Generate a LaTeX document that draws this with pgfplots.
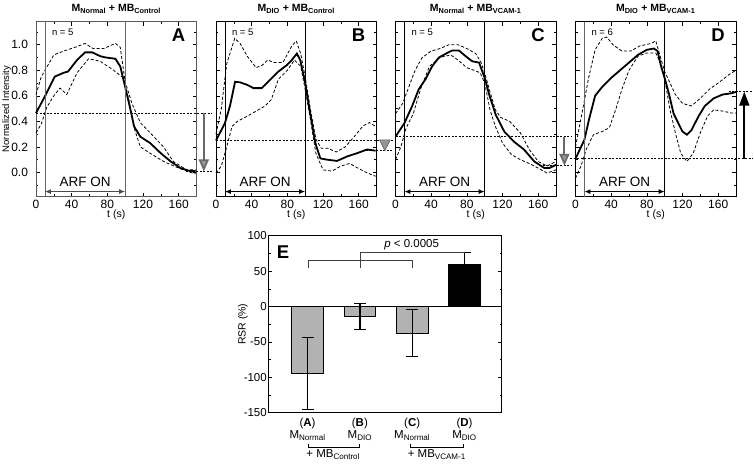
\documentclass[border=0pt]{standalone}
\usepackage{fontspec}
\setmainfont{Liberation Sans}
\usepackage{pgfplots}
\pgfplotsset{compat=1.18}
\usetikzlibrary{arrows.meta}
\newcommand{\fs}[1]{\fontsize{#1bp}{#1bp}\selectfont}
\definecolor{bargray}{RGB}{178,178,178}
\definecolor{arrgray}{RGB}{150,150,150}
\tikzset{
 mean/.style={black, line width=1.8bp},
 band/.style={black, line width=0.8bp, dash pattern=on 3bp off 2bp},
 refl/.style={black, line width=0.6bp, dash pattern=on 2bp off 1.5bp},
 vl/.style={line width=0.7bp},
}
\pgfplotsset{
 panel/.style={
  scale only axis, width=160.5bp, height=175bp, anchor=south west,
  xmin=0, xmax=180, ymin=-0.19, ymax=1.18,
  xtick={0,40,80,120,160}, minor xtick={20,60,100,140},
  ytick={0,0.2,0.4,0.6,0.8,1.0}, minor ytick={-0.1,0.1,0.3,0.5,0.7,0.9,1.1},
  tick align=inside, xtick pos=both, ytick pos=both,
  major tick length=4bp, minor tick length=2.2bp,
  every tick/.style={line width=0.5bp},
  axis line style={line width=0.7bp},
  clip=false,
  /pgf/number format/assume math mode=true,
  yticklabel style={/pgf/number format/fixed, /pgf/number format/fixed zerofill, /pgf/number format/precision=1, xshift=-4.5bp},
  tick label style={font=\fs{12}},
 },
}
\begin{document}
\begin{tikzpicture}
\path[use as bounding box] (0,0) rectangle (754bp,464bp);

% ---------------- Panel A
\begin{axis}[panel, at={(36bp,267.3bp)}, axis line style={black!65}]
\addplot[band] coordinates {(0,0.61)(6,0.75)(20,0.92)(31,0.95)(44,0.98)(55,1.01)(64,0.97)(76,0.97)(89,1.01)(94.5,0.98)(100,0.71)(107.6,0.54)(117,0.39)(128,0.31)(143,0.2)(154,0.086)(169,0.02)(179,0.02)};
\addplot[band] coordinates {(0,0.31)(6,0.38)(12,0.51)(21,0.61)(27,0.66)(34.5,0.61)(46,0.78)(59,0.89)(72,0.87)(87,0.80)(98,0.74)(104,0.57)(109.5,0.36)(117,0.2)(128,0.15)(143,0.086)(158,0.04)(173,0.0)(179,-0.01)};
\addplot[mean] coordinates {(0,0.465)(10,0.595)(21,0.75)(31,0.78)(36,0.79)(46,0.88)(55,0.94)(63,0.94)(72,0.91)(78,0.90)(89,0.89)(94.5,0.83)(100,0.67)(106,0.49)(110,0.36)(117,0.28)(128,0.23)(140,0.15)(151,0.086)(162,0.034)(173,0.01)(179,0.01)};
\draw[vl, black!60] (axis cs:10,-0.19) -- (axis cs:10,1.18);
\draw[vl, black!60] (axis cs:100,-0.19) -- (axis cs:100,1.18);
\draw[refl] (axis cs:0,0.465) -- (axis cs:197,0.465);
\draw[refl] (axis cs:168,0.008) -- (axis cs:199,0.008);
\draw[line width=1.8bp, arrgray!70!black, -{Triangle[length=12bp,width=10bp,fill=arrgray]}] (axis cs:188.2,0.465) -- (axis cs:188.2,0.008);
\draw[line width=1bp, black!70, {Latex[length=6bp,width=5bp]}-{Latex[length=6bp,width=5bp]}] (axis cs:10,-0.15) -- (axis cs:100,-0.15);
\node[font=\fs{13.5}] at (axis cs:55,-0.075) {ARF ON};
\node[font=\fs{9.5}, anchor=west] at (axis cs:14,1.094) {n = 5};
\node[font=\fs{18.5}\bfseries] at (axis cs:160,1.075) {A};
\node[font=\fs{10.5}\bfseries] at (axis description cs:0.5,1) [yshift=13bp] {M\textsubscript{Normal} + MB\textsubscript{Control}};
\node[font=\fs{10.5}] at (axis description cs:0.5,0) [yshift=-18.5bp] {t (s)};
\node[font=\fs{9.5}, rotate=90] at (axis description cs:0,0.5) [yshift=29.3bp] {Normalized Intensity};
\end{axis}

% ---------------- Panel B
\begin{axis}[panel, at={(216bp,267.3bp)}, yticklabels={}]
\addplot[band] coordinates {(0,0.3)(6,0.5)(12,0.85)(21,1.05)(27,1.01)(35,0.91)(45,0.82)(52,0.84)(58,0.88)(65,0.86)(75,0.86)(85,0.99)(90,1.03)(95,0.93)(100,0.75)(106,0.49)(112,0.26)(118,0.19)(125,0.19)(135,0.16)(145,0.2)(155,0.28)(165,0.365)(172,0.39)(179,0.36)};
\addplot[band] coordinates {(0,-0.005)(6,0.05)(12,0.2)(18,0.36)(24,0.4)(35,0.44)(45,0.48)(55,0.52)(62,0.57)(70,0.73)(80,0.80)(88,0.88)(95,0.83)(100,0.65)(106,0.41)(112,0.15)(120,0.02)(130,0.01)(140,0.05)(150,0.07)(160,0.03)(170,-0.005)(179,-0.03)};
\addplot[mean] coordinates {(0,0.25)(10,0.386)(15.7,0.52)(21.4,0.71)(27,0.705)(34.5,0.687)(42,0.66)(51.4,0.66)(60.7,0.726)(70,0.79)(79.5,0.84)(85,0.88)(90.7,0.93)(94.5,0.88)(100,0.70)(105.7,0.46)(111.4,0.23)(117,0.11)(124.5,0.10)(135.7,0.09)(147,0.125)(158,0.15)(169.5,0.18)(179,0.17)};
\draw[vl] (axis cs:10,-0.19) -- (axis cs:10,1.18);
\draw[vl] (axis cs:100,-0.19) -- (axis cs:100,1.18);
\draw[refl] (axis cs:0,0.255) -- (axis cs:199,0.255);
\draw[refl] (axis cs:168,0.17) -- (axis cs:199,0.17);
\filldraw[fill=arrgray, draw=arrgray!60!black, line width=0.6bp] (axis cs:183.4,0.255) -- (axis cs:195.4,0.255) -- (axis cs:189.4,0.17) -- cycle;
\draw[line width=1bp, {Latex[length=6bp,width=5bp]}-{Latex[length=6bp,width=5bp]}] (axis cs:10,-0.15) -- (axis cs:100,-0.15);
\node[font=\fs{13.5}] at (axis cs:55,-0.075) {ARF ON};
\node[font=\fs{9.5}, anchor=west] at (axis cs:14,1.094) {n = 5};
\node[font=\fs{18.5}\bfseries] at (axis cs:160,1.075) {B};
\node[font=\fs{10.5}\bfseries] at (axis description cs:0.5,1) [yshift=13bp] {M\textsubscript{DIO} + MB\textsubscript{Control}};
\node[font=\fs{10.5}] at (axis description cs:0.5,0) [yshift=-18.5bp] {t (s)};
\end{axis}

% ---------------- Panel C
\begin{axis}[panel, at={(395.5bp,267.3bp)}, yticklabels={}]
\addplot[band] coordinates {(0,0.46)(8,0.54)(15,0.67)(22,0.80)(30,0.9)(40,0.95)(50,0.97)(60,1.0)(70,1.0)(80,0.97)(90,0.93)(96,0.86)(100,0.78)(106,0.63)(112,0.49)(118,0.43)(128,0.40)(140,0.31)(150,0.18)(160,0.086)(170,0.05)(180,0.086)};
\addplot[band] coordinates {(0,0.1)(6,0.2)(12,0.35)(20,0.46)(28,0.65)(38,0.83)(50,0.9)(62,0.92)(70,0.88)(80,0.82)(88,0.80)(95,0.78)(100,0.70)(106,0.49)(112,0.36)(120,0.23)(130,0.14)(140,0.10)(150,0.07)(160,0.034)(170,-0.005)(180,0.02)};
\addplot[mean] coordinates {(0,0.28)(10,0.386)(18.7,0.52)(26,0.65)(33.7,0.73)(41,0.83)(48.7,0.9)(58,0.935)(63.7,0.955)(71,0.955)(78.7,0.91)(86,0.87)(93.7,0.86)(100.5,0.73)(105,0.61)(112.5,0.45)(122,0.32)(133,0.24)(144,0.18)(155.6,0.086)(167,0.034)(172.5,0.034)(180,0.06)};
\draw[vl] (axis cs:10,-0.19) -- (axis cs:10,1.18);
\draw[vl] (axis cs:100,-0.19) -- (axis cs:100,1.18);
\draw[refl] (axis cs:0,0.28) -- (axis cs:197,0.28);
\draw[refl] (axis cs:165,0.052) -- (axis cs:197,0.052);
\draw[line width=1.8bp, arrgray!70!black, -{Triangle[length=12bp,width=10bp,fill=arrgray]}] (axis cs:189.4,0.28) -- (axis cs:189.4,0.052);
\draw[line width=1bp, {Latex[length=6bp,width=5bp]}-{Latex[length=6bp,width=5bp]}] (axis cs:10,-0.15) -- (axis cs:100,-0.15);
\node[font=\fs{13.5}] at (axis cs:55,-0.075) {ARF ON};
\node[font=\fs{9.5}, anchor=west] at (axis cs:14,1.094) {n = 5};
\node[font=\fs{18.5}\bfseries] at (axis cs:160,1.075) {C};
\node[font=\fs{10.5}\bfseries] at (axis description cs:0.5,1) [yshift=13bp] {M\textsubscript{Normal} + MB\textsubscript{VCAM-1}};
\node[font=\fs{10.5}] at (axis description cs:0.5,0) [yshift=-18.5bp] {t (s)};
\end{axis}

% ---------------- Panel D
\begin{axis}[panel, at={(575.5bp,267.3bp)}, yticklabels={}]
\addplot[band] coordinates {(0,0.2)(8,0.49)(15,0.75)(22,0.96)(30,1.05)(35,1.06)(42,1.0)(52,0.95)(62,0.95)(72,0.99)(85,1.01)(90,1.03)(95,0.91)(100,0.79)(106,0.70)(112,0.61)(120,0.54)(130,0.52)(140,0.58)(150,0.65)(160,0.70)(172,0.765)(180,0.80)};
\addplot[band] coordinates {(0,-0.045)(6,0.047)(12,0.18)(20,0.295)(30,0.32)(38,0.35)(45,0.49)(52,0.65)(60,0.80)(70,0.91)(80,0.935)(90,0.935)(95,0.86)(100,0.73)(106,0.49)(112,0.31)(118,0.15)(125,0.086)(132,0.15)(140,0.31)(148,0.44)(155,0.49)(165,0.48)(175,0.465)(180,0.465)};
\addplot[mean] coordinates {(0,0.107)(10,0.256)(15,0.41)(22,0.6)(30,0.67)(40,0.74)(50,0.80)(60,0.86)(70,0.92)(80,0.96)(88,0.97)(92,0.95)(96,0.83)(100,0.74)(105,0.61)(110,0.46)(115,0.39)(120,0.32)(125,0.295)(130,0.33)(138,0.44)(145,0.52)(155,0.58)(165,0.61)(175,0.62)(180,0.63)};
\draw[vl, black!60] (axis cs:10,-0.19) -- (axis cs:10,1.18);
\draw[vl] (axis cs:100,-0.19) -- (axis cs:100,1.18);
\draw[refl] (axis cs:-6,0.107) -- (axis cs:199,0.107);
\draw[refl] (axis cs:172,0.632) -- (axis cs:199,0.632);
\draw[line width=1.8bp, black, -{Triangle[length=14bp,width=10bp]}] (axis cs:189.3,0.107) -- (axis cs:189.3,0.632);
\draw[line width=1bp, {Latex[length=6bp,width=5bp]}-{Latex[length=6bp,width=5bp]}] (axis cs:10,-0.15) -- (axis cs:100,-0.15);
\node[font=\fs{13.5}] at (axis cs:55,-0.075) {ARF ON};
\node[font=\fs{9.5}, anchor=west] at (axis cs:14,1.094) {n = 6};
\node[font=\fs{18.5}\bfseries] at (axis cs:160,1.075) {D};
\node[font=\fs{10.5}\bfseries] at (axis description cs:0.5,1) [yshift=13bp] {M\textsubscript{DIO} + MB\textsubscript{VCAM-1}};
\node[font=\fs{10.5}] at (axis description cs:0.5,0) [yshift=-18.5bp] {t (s)};
\end{axis}

% ---------------- Panel E
\begin{axis}[at={(268.3bp,51.3bp)}, anchor=south west, scale only axis, width=233.4bp, height=177bp,
 xmin=0.25, xmax=4.71, ymin=-150, ymax=100, xtick=\empty,
 ytick={-150,-100,-50,0,50,100}, minor ytick={-125,-75,-25,25,75},
 tick align=inside, ytick pos=both, major tick length=4bp, minor tick length=2.2bp,
 every tick/.style={line width=0.5bp}, axis line style={line width=0.7bp},
 clip=false, /pgf/number format/assume math mode=true,
 yticklabel style={font=\fs{11.5}, xshift=2bp},
 ybar, bar width=31.4bp]
\addplot[fill=bargray, draw=black, line width=0.8bp, bar shift=0pt,
  error bars/.cd, y dir=both, y explicit,
  error bar style={line width=1.3bp, black},
  error mark options={rotate=90, mark size=6bp, line width=1.3bp, black}]
  coordinates {(1,-94.5) +- (0,50.5) (2,-14) +- (0,18) (3,-37.5) +- (0,33.5)};
\addplot[fill=black, draw=black, line width=0.8bp, bar shift=0pt,
  error bars/.cd, y dir=plus, y explicit,
  error bar style={line width=1.3bp, black},
  error mark options={rotate=90, mark size=6bp, line width=1.3bp, black}]
  coordinates {(4,60) +- (0,16)};
\draw[line width=0.7bp] (axis cs:0.25,0) -- (axis cs:4.71,0);
\draw[line width=0.7bp, black!75] (axis cs:1.02,54) -- (axis cs:1.02,64.5) -- (axis cs:3.0,64.5) -- (axis cs:3.0,54);
\draw[line width=0.7bp, black!75] (axis cs:2.0,54) -- (axis cs:2.0,76) -- (axis cs:4.0,76);
\node[font=\fs{11.5}] at (axis cs:2.99,88) {\textit{p} < 0.0005};
\node[font=\fs{18.5}\bfseries] at (axis cs:0.53,77.4) {E};
\node[font=\fs{10.5}, rotate=90] at (axis description cs:0,0.5) [yshift=25.3bp] {RSR (\%)};
\node[font=\fs{11.5}, anchor=base] at (axis cs:1,-168.8) {(\textbf{A})};
\node[font=\fs{11.5}, anchor=base] at (axis cs:2,-168.8) {(\textbf{B})};
\node[font=\fs{11.5}, anchor=base] at (axis cs:3,-168.8) {(\textbf{C})};
\node[font=\fs{11.5}, anchor=base] at (axis cs:4,-168.8) {(\textbf{D})};
\node[font=\fs{11.5}, anchor=base] at (axis cs:1,-187) {M\textsubscript{Normal}};
\node[font=\fs{11.5}, anchor=base] at (axis cs:2,-187) {M\textsubscript{DIO}};
\node[font=\fs{11.5}, anchor=base] at (axis cs:3,-187) {M\textsubscript{Normal}};
\node[font=\fs{11.5}, anchor=base] at (axis cs:4,-187) {M\textsubscript{DIO}};
\draw[line width=0.9bp] (axis cs:1.01,-193.6) -- (axis cs:1.01,-199.6) -- (axis cs:1.99,-199.6) -- (axis cs:1.99,-193.6);
\draw[line width=0.9bp] (axis cs:2.97,-193.6) -- (axis cs:2.97,-199.6) -- (axis cs:3.98,-199.6) -- (axis cs:3.98,-193.6);
\node[font=\fs{11.5}, anchor=base] at (axis cs:1.49,-213) {+ MB\textsubscript{Control}};
\node[font=\fs{11.5}, anchor=base] at (axis cs:3.47,-213) {+ MB\textsubscript{VCAM-1}};
\end{axis}
\end{tikzpicture}
\end{document}
